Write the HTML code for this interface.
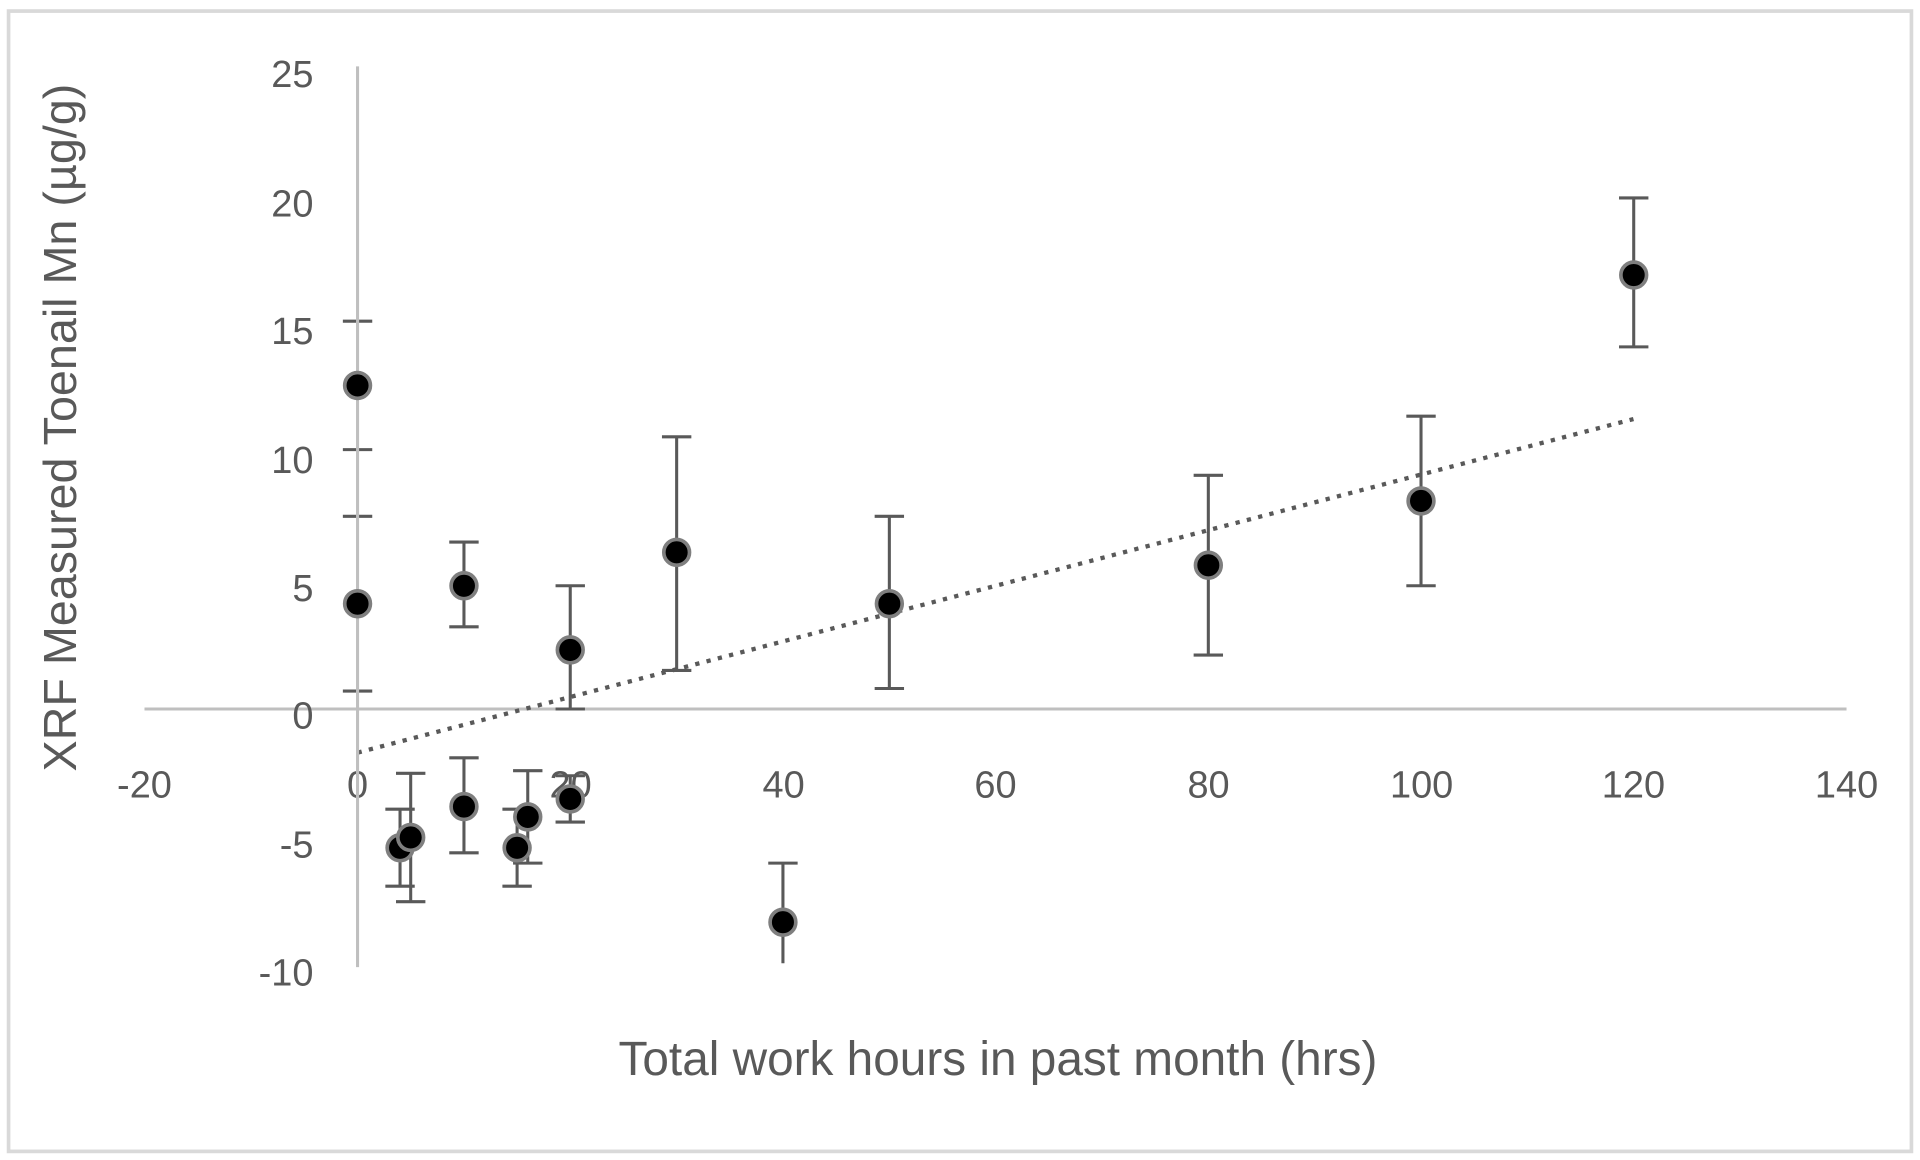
<!DOCTYPE html>
<html><head><meta charset="utf-8"><style>html,body{margin:0;padding:0;background:#fff}svg{display:block}</style></head>
<body>
<svg width="1920" height="1160" viewBox="0 0 1568 944" preserveAspectRatio="none" xmlns="http://www.w3.org/2000/svg" font-family="'Liberation Sans', sans-serif" fill="#595959">
<rect x="7" y="9" width="1554" height="928" fill="#fff" stroke="#d9d9d9" stroke-width="3"/>
<line x1="118" y1="577" x2="1508" y2="577" stroke="#bfbfbf" stroke-width="2.5"/>
<g font-size="31" text-anchor="end">
<text x="256" y="71">25</text><text x="256" y="176">20</text><text x="256" y="280">15</text>
<text x="256" y="385">10</text><text x="256" y="489">5</text><text x="256" y="593">0</text>
<text x="256" y="698">-5</text><text x="256" y="802">-10</text>
</g>
<g font-size="31" text-anchor="middle">
<text x="118" y="649">-20</text><text x="292" y="649">0</text><text x="466" y="649">20</text>
<text x="640" y="649">40</text><text x="813" y="649">60</text><text x="987" y="649">80</text>
<text x="1161" y="649">100</text><text x="1334" y="649">120</text><text x="1508" y="649">140</text>
</g>
<text x="815" y="875" font-size="39" text-anchor="middle">Total work hours in past month (hrs)</text>
<text transform="translate(62,348) rotate(-90)" font-size="38" text-anchor="middle">XRF Measured Toenail Mn (µg/g)</text>
<g transform="translate(292,577)">
<line x1="0" y1="35.5" x2="1042" y2="-236" stroke="#595959" stroke-width="3.5" stroke-dasharray="3.5,6"/>
<g stroke="#595959" stroke-width="2.5" fill="none">
<path d="M-12,-315.6H12M-12,-211.1H12"/>
<path d="M-12,-156.8H12M-12,-14.6H12"/>
<path d="M34.7,81.5V144.2M22.7,81.5H46.7M22.7,144.2H46.7"/>
<path d="M43.4,52.3V156.8M31.4,52.3H55.4M31.4,156.8H55.4"/>
<path d="M86.9,-135.9V-66.9M74.9,-135.9H98.9M74.9,-66.9H98.9"/>
<path d="M86.9,39.7V117M74.9,39.7H98.9M74.9,117H98.9"/>
<path d="M130.3,81.5V144.2M118.3,81.5H142.3M118.3,144.2H142.3"/>
<path d="M139,50.2V125.4M127,50.2H151M127,125.4H151"/>
<path d="M173.7,-100.3V0M161.7,-100.3H185.7M161.7,0H185.7"/>
<path d="M173.7,54.3V92M161.7,54.3H185.7M161.7,92H185.7"/>
<path d="M260.6,-221.5V-31.4M248.6,-221.5H272.6M248.6,-31.4H272.6"/>
<path d="M347.4,125.4V206.9M335.4,125.4H359.4"/>
<path d="M434.3,-156.8V-16.7M422.3,-156.8H446.3M422.3,-16.7H446.3"/>
<path d="M694.8,-190.2V-43.9M682.8,-190.2H706.8M682.8,-43.9H706.8"/>
<path d="M868.5,-238.3V-100.3M856.5,-238.3H880.5M856.5,-100.3H880.5"/>
<path d="M1042.2,-415.9V-294.7M1030.2,-415.9H1054.2M1030.2,-294.7H1054.2"/>
</g>
<line x1="0" y1="-523" x2="0" y2="210" stroke="#bfbfbf" stroke-width="2.5"/>
<g fill="#000" stroke="#7f7f7f" stroke-width="3">
<circle cx="0" cy="-263.3" r="10.5"/><circle cx="0" cy="-85.7" r="10.5"/>
<circle cx="34.7" cy="112.9" r="10.5"/><circle cx="43.4" cy="104.5" r="10.5"/>
<circle cx="86.9" cy="-100.3" r="10.5"/><circle cx="86.9" cy="79.4" r="10.5"/>
<circle cx="130.3" cy="112.9" r="10.5"/><circle cx="139" cy="87.8" r="10.5"/>
<circle cx="173.7" cy="-48.1" r="10.5"/><circle cx="173.7" cy="73.2" r="10.5"/>
<circle cx="260.6" cy="-127.5" r="10.5"/><circle cx="347.4" cy="173.5" r="10.5"/>
<circle cx="434.3" cy="-85.7" r="10.5"/><circle cx="694.8" cy="-117" r="10.5"/>
<circle cx="868.5" cy="-169.3" r="10.5"/><circle cx="1042.2" cy="-353.2" r="10.5"/>
</g>
</g>
</svg>
</body></html>
